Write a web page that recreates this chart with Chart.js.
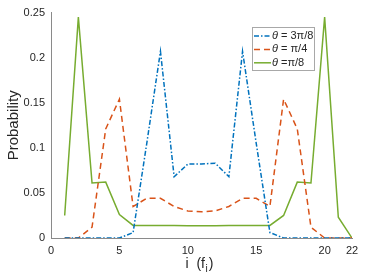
<!DOCTYPE html>
<html>
<head>
<meta charset="utf-8">
<script src="https://cdn.jsdelivr.net/npm/chart.js@4"></script>
<style>
  html, body { margin: 0; padding: 0; background: #fff; }
  #wrap { width: 390px; height: 280px; }
</style>
</head>
<body>
<div id="wrap"><canvas id="probChart"></canvas></div>
<script>
// index i = 1..22
const idx = [1,2,3,4,5,6,7,8,9,10,11,12,13,14,15,16,17,18,19,20,21,22];
const pThree8 = [0,0,0,0,0,0.006,0.105,0.207,0.068,0.082,0.082,0.083,0.068,0.207,0.105,0.006,0,0,0,0,0,0];
const pQuarter = [0,0,0.012,0.121,0.154,0.035,0.044,0.044,0.035,0.030,0.029,0.030,0.035,0.044,0.044,0.035,0.154,0.121,0.012,0,0,0];
const pEighth = [0.025,0.245,0.061,0.062,0.026,0.014,0.014,0.014,0.014,0.0135,0.0135,0.0135,0.014,0.014,0.014,0.014,0.025,0.062,0.061,0.245,0.023,0];
const labels = ['= 3\u03c0/8', '= \u03c0/4', '=\u03c0/8'];
const xTicks = [0, 5, 10, 15, 20, 22];
const yTicks = [0, 0.05, 0.1, 0.15, 0.2, 0.25];

const FONT = "'Liberation Sans', Arial, sans-serif";
const TXT = '#262626';

function pts(vals) {
  return vals.map((v, k) => ({ x: idx[k], y: v }));
}

// MATLAB style boxed legend, top right
const legendBox = {
  id: 'legendBox',
  afterDraw(chart) {
    const ctx = chart.ctx;
    const x0 = 252.5, y0 = 27.5, w = 62, h = 43;
    ctx.save();
    ctx.fillStyle = '#fff';
    ctx.fillRect(x0, y0, w, h);
    ctx.strokeStyle = '#a8a8a8';
    ctx.lineWidth = 1;
    ctx.strokeRect(x0, y0, w, h);
    chart.data.datasets.forEach((ds, k) => {
      const cy = 36 + k * 13.4;
      ctx.strokeStyle = ds.borderColor;
      ctx.lineWidth = ds.borderWidth;
      ctx.setLineDash(ds.borderDash || []);
      ctx.beginPath();
      ctx.moveTo(254, cy);
      ctx.lineTo(271, cy);
      ctx.stroke();
      ctx.setLineDash([]);
      ctx.fillStyle = TXT;
      ctx.textBaseline = 'middle';
      ctx.font = 'italic 11px ' + FONT;
      ctx.fillText('\u03b8', 272, cy);
      const tw = ctx.measureText('\u03b8').width;
      ctx.font = '11px ' + FONT;
      ctx.fillText(' ' + ds.label, 272 + tw, cy);
    });
    ctx.restore();
  }
};

// x label with subscript: i  (f_i)
const xLabel = {
  id: 'xLabel',
  afterDraw(chart) {
    const ctx = chart.ctx;
    ctx.save();
    ctx.fillStyle = TXT;
    ctx.textBaseline = 'alphabetic';
    ctx.font = '14px ' + FONT;
    const main1 = 'i  (f', main2 = ')';
    const w1 = ctx.measureText(main1).width;
    ctx.font = '10px ' + FONT;
    const ws = ctx.measureText('i').width + 1.5;
    const x = 185.5;
    const base = 268;
    ctx.font = '14px ' + FONT;
    ctx.fillText(main1, x, base);
    ctx.font = '10px ' + FONT;
    ctx.fillText('i', x + w1 + 0.5, base + 3.5);
    ctx.font = '14px ' + FONT;
    ctx.fillText(main2, x + w1 + ws, base);
    ctx.restore();
  }
};

new Chart(document.getElementById('probChart'), {
  type: 'line',
  data: {
    datasets: [
      {
        label: labels[0],
        data: pts(pThree8),
        borderColor: '#0072BD',
        borderWidth: 1.5,
        borderDash: [5, 2, 1.5, 2]
      },
      {
        label: labels[1],
        data: pts(pQuarter),
        borderColor: '#D95319',
        borderWidth: 1.5,
        borderDash: [6, 4]
      },
      {
        label: labels[2],
        data: pts(pEighth),
        borderColor: '#77AC30',
        borderWidth: 1.5
      }
    ]
  },
  options: {
    responsive: true,
    maintainAspectRatio: false,
    animation: false,
    events: [],
    elements: {
      point: { radius: 0 },
      line: { tension: 0, fill: false }
    },
    layout: { padding: { left: 0, top: 12, right: 38, bottom: 0 } },
    plugins: {
      legend: { display: false },
      tooltip: { enabled: false }
    },
    scales: {
      x: {
        type: 'linear',
        min: 0,
        max: 22,
        afterBuildTicks: axis => { axis.ticks = xTicks.map(v => ({ value: v })); },
        afterFit: axis => { axis.height = 42; },
        grid: { display: false, drawTicks: false, tickLength: 0 },
        border: { display: true, color: '#8a8a8a', width: 1 },
        ticks: {
          color: TXT,
          padding: 6,
          maxRotation: 0,
          font: { size: 11, family: FONT }
        }
      },
      y: {
        min: 0,
        max: 0.25,
        afterBuildTicks: axis => { axis.ticks = yTicks.map(v => ({ value: v })); },
        afterFit: axis => { axis.width = 51; },
        grid: { display: false, drawTicks: false, tickLength: 0 },
        border: { display: true, color: '#8a8a8a', width: 1 },
        ticks: {
          color: TXT,
          padding: 6,
          font: { size: 11, family: FONT },
          callback: v => String(Math.round(v * 100) / 100)
        },
        title: {
          display: true,
          text: 'Probability',
          color: TXT,
          padding: { top: 5, bottom: 0 },
          font: { size: 15, family: FONT }
        }
      }
    }
  },
  plugins: [legendBox, xLabel]
});
</script>
</body>
</html>
